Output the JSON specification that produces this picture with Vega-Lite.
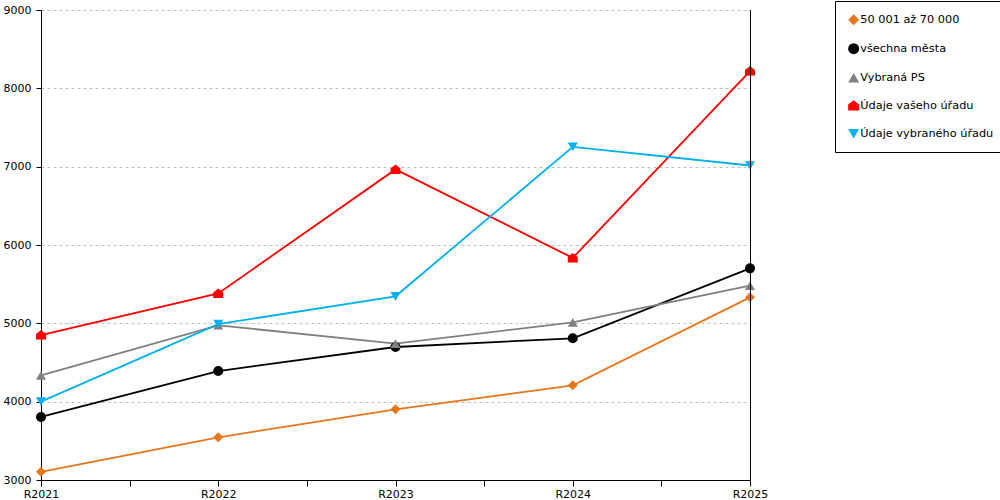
{
  "$schema": "https://vega.github.io/schema/vega-lite/v6.json",
  "width": 709,
  "height": 470,
  "autosize": {"type": "none"},
  "padding": {"left": 41, "top": 10, "right": 250, "bottom": 20},
  "background": "white",
  "data": {
    "values": [
      {"rok": 2021, "serie": "50 001 až 70 000", "hodnota": 3105},
      {"rok": 2022, "serie": "50 001 až 70 000", "hodnota": 3545},
      {"rok": 2023, "serie": "50 001 až 70 000", "hodnota": 3902},
      {"rok": 2024, "serie": "50 001 až 70 000", "hodnota": 4209},
      {"rok": 2025, "serie": "50 001 až 70 000", "hodnota": 5332},
      {"rok": 2021, "serie": "všechna města", "hodnota": 3805},
      {"rok": 2022, "serie": "všechna města", "hodnota": 4391},
      {"rok": 2023, "serie": "všechna města", "hodnota": 4698},
      {"rok": 2024, "serie": "všechna města", "hodnota": 4809},
      {"rok": 2025, "serie": "všechna města", "hodnota": 5702},
      {"rok": 2021, "serie": "Vybraná PS", "hodnota": 4335},
      {"rok": 2022, "serie": "Vybraná PS", "hodnota": 4975},
      {"rok": 2023, "serie": "Vybraná PS", "hodnota": 4740},
      {"rok": 2024, "serie": "Vybraná PS", "hodnota": 5012},
      {"rok": 2025, "serie": "Vybraná PS", "hodnota": 5480},
      {"rok": 2021, "serie": "Údaje vašeho úřadu", "hodnota": 4850},
      {"rok": 2022, "serie": "Údaje vašeho úřadu", "hodnota": 5382},
      {"rok": 2023, "serie": "Údaje vašeho úřadu", "hodnota": 6965},
      {"rok": 2024, "serie": "Údaje vašeho úřadu", "hodnota": 5835},
      {"rok": 2025, "serie": "Údaje vašeho úřadu", "hodnota": 8220},
      {"rok": 2021, "serie": "Údaje vybraného úřadu", "hodnota": 4000},
      {"rok": 2022, "serie": "Údaje vybraného úřadu", "hodnota": 4990},
      {"rok": 2023, "serie": "Údaje vybraného úřadu", "hodnota": 5345},
      {"rok": 2024, "serie": "Údaje vybraného úřadu", "hodnota": 7252},
      {"rok": 2025, "serie": "Údaje vybraného úřadu", "hodnota": 7015}
    ]
  },
  "encoding": {
    "x": {
      "field": "rok",
      "type": "quantitative",
      "scale": {"domain": [2021, 2025], "nice": false, "zero": false},
      "axis": {
        "title": null,
        "grid": false,
        "values": [2021, 2021.5, 2022, 2022.5, 2023, 2023.5, 2024, 2024.5, 2025],
        "labelExpr": "datum.value % 1 == 0 ? 'R' + datum.value : ''",
        "tickSize": 6,
        "labelPadding": 2,
        "labelFlush": false,
        "labelOverlap": false
      }
    },
    "y": {
      "field": "hodnota",
      "type": "quantitative",
      "scale": {"domain": [3000, 9000], "nice": false, "zero": false},
      "axis": {
        "title": null,
        "values": [3000, 4000, 5000, 6000, 7000, 8000, 9000],
        "format": "d",
        "tickSize": 5,
        "labelPadding": 5,
        "gridDash": [3, 3],
        "gridColor": "#c0c0c0",
        "labelFlush": false
      }
    }
  },
  "layer": [
    {
      "mark": {"type": "line", "strokeWidth": 1.8},
      "encoding": {
        "color": {
          "field": "serie",
          "type": "nominal",
          "scale": {
            "domain": ["50 001 až 70 000", "všechna města", "Vybraná PS", "Údaje vašeho úřadu", "Údaje vybraného úřadu"],
            "range": ["#E6761B", "#000000", "#808080", "#FF0000", "#00B0F0"]
          }
        }
      }
    },
    {
      "mark": {"type": "point", "filled": true, "opacity": 1, "size": 100},
      "encoding": {
        "color": {"field": "serie", "type": "nominal"},
        "shape": {
          "field": "serie",
          "type": "nominal",
          "scale": {
            "domain": ["50 001 až 70 000", "všechna města", "Vybraná PS", "Údaje vašeho úřadu", "Údaje vybraného úřadu"],
            "range": ["diamond", "circle", "triangle-up", "M0,-1 L1,-0.2 L1,0.9 L-1,0.9 L-1,-0.2 Z", "triangle-down"]
          }
        }
      }
    },
    {
      "data": {"values": [{"rok": 2025}]},
      "mark": {"type": "rule", "stroke": "#000000", "strokeWidth": 1, "xOffset": 0.5},
      "encoding": {
        "x": {"field": "rok", "type": "quantitative"},
        "y": null
      }
    }
  ],
  "config": {
    "font": "DejaVu Sans",
    "view": {"stroke": null},
    "axis": {
      "labelFont": "DejaVu Sans",
      "labelFontSize": 11,
      "labelColor": "black",
      "domainColor": "black",
      "tickColor": "black"
    },
    "legend": {
      "orient": "none",
      "legendX": 794,
      "legendY": -9,
      "title": null,
      "labelFont": "DejaVu Sans",
      "labelFontSize": 11.3,
      "labelColor": "black",
      "strokeColor": "black",
      "fillColor": "white",
      "padding": 13,
      "rowPadding": 16,
      "symbolSize": 120,
      "symbolStrokeWidth": 0,
      "labelOffset": 1
    }
  }
}
